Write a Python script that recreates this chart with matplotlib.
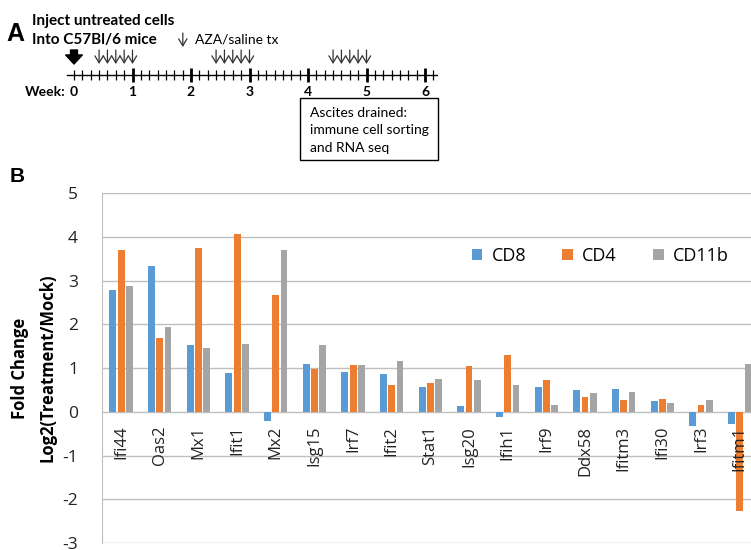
"""
Two-panel figure: A) treatment timeline, B) log2 fold change of ISG expression
in sorted immune cells (CD8, CD4, CD11b).
"""

import matplotlib
matplotlib.use("Agg")
import matplotlib.pyplot as plt
import numpy as np
from matplotlib.patches import Rectangle

plt.rcParams["axes.unicode_minus"] = False

# ---- panel B data ----
GENES = ["Ifi44", "Oas2", "Mx1", "Ifit1", "Mx2", "Isg15", "Irf7", "Ifit2", "Stat1",
         "Isg20", "Ifih1", "Irf9", "Ddx58", "Ifitm3", "Ifi30", "Irf3", "Ifitm1"]
CD8 = [2.78, 3.33, 1.53, 0.89, -0.20, 1.10, 0.91, 0.87, 0.58,
       0.14, -0.11, 0.58, 0.50, 0.53, 0.24, -0.33, -0.28]
CD4 = [3.71, 1.70, 3.74, 4.07, 2.68, 0.98, 1.07, 0.62, 0.67,
       1.04, 1.31, 0.72, 0.35, 0.28, 0.30, 0.16, -2.26]
CD11B = [2.88, 1.93, 1.47, 1.56, 3.71, 1.53, 1.07, 1.17, 0.75,
         0.73, 0.62, 0.16, 0.44, 0.46, 0.21, 0.28, 1.10]
SERIES = ["CD8", "CD4", "CD11b"]
Y_TICKS = [-3, -2, -1, 0, 1, 2, 3, 4, 5]

# ---- panel A data ----
WEEKS = [0, 1, 2, 3, 4, 5, 6]
N_DAYS = 43
TX_DAYS = [3, 4, 5, 6, 7, 17, 18, 19, 20, 21, 31, 32, 33, 34, 35]

BLUE, ORANGE, GRAY = "#5B9BD5", "#ED7D31", "#A5A5A5"
GRID = "#BFBFBF"
FONT_B = "Open Sans"
FONT_A = "Lato"

W_PX, H_PX = 751, 550
fig = plt.figure(figsize=(W_PX / 100, H_PX / 100), dpi=100)

# ---------------- panel A: timeline ----------------
TOP_H = 172
W0, PX_WEEK = 74.0, 58.5  # pixel position of week 0, pixels per week
axA = fig.add_axes([0, 1 - TOP_H / H_PX, 1, TOP_H / H_PX])
axA.set_xlim(-W0 / PX_WEEK, (W_PX - W0) / PX_WEEK)
axA.set_ylim(TOP_H, 0)
axA.axis("off")

line_y = 75
axA.plot([-0.12, 6.2], [line_y, line_y], color="black", lw=1.0)
days = np.arange(N_DAYS + 1) / 7
axA.vlines(days, line_y - 5, line_y + 5, color="black", lw=0.9)
axA.vlines(WEEKS[1:], line_y - 7, line_y + 7, color="black", lw=2.0)
for w in WEEKS:
    axA.text(w, 92, str(w), ha="center", va="center", fontsize=10,
             family=FONT_A, fontweight="bold")
axA.text(-0.15, 92, "Week:", ha="right", va="center", fontsize=10,
         family=FONT_A, fontweight="bold")

# injection arrow
axA.annotate("", xy=(0, 64), xytext=(0, 50),
             arrowprops=dict(arrowstyle="simple,head_width=1.2,head_length=0.65,tail_width=0.5",
                             color="black", shrinkA=0, shrinkB=0))
# treatment arrows
for d in TX_DAYS:
    axA.annotate("", xy=(d / 7, 64), xytext=(d / 7, 50),
                 arrowprops=dict(arrowstyle="->,head_width=0.3,head_length=0.5",
                                 color="#333333", lw=0.9, shrinkA=0, shrinkB=0))
axA.annotate("", xy=(1.86, 47), xytext=(1.86, 33),
             arrowprops=dict(arrowstyle="->,head_width=0.3,head_length=0.5",
                             color="#333333", lw=0.9, shrinkA=0, shrinkB=0))
axA.text(2.07, 39, "AZA/saline tx", ha="left", va="center", fontsize=10, family=FONT_A)

axA.text(-1.15, 34, "A", ha="left", va="center", fontsize=18, fontweight="bold",
         family="Liberation Sans")
axA.text(-0.72, 21, "Inject untreated cells", ha="left", va="center", fontsize=11,
         family=FONT_A, fontweight="bold")
axA.text(-0.72, 40, "Into C57Bl/6 mice", ha="left", va="center", fontsize=11,
         family=FONT_A, fontweight="bold")

bx0, bx1 = (300 - W0) / PX_WEEK, (438 - W0) / PX_WEEK
axA.add_patch(Rectangle((bx0, 98), bx1 - bx0, 62, fill=False, edgecolor="black", lw=1.0))
for i, txt in enumerate(["Ascites drained:", "immune cell sorting", "and RNA seq"]):
    axA.text(bx0 + 0.17, 113 + 17.5 * i, txt, ha="left", va="center", fontsize=10,
             family=FONT_A)

# ---------------- panel B: bar chart ----------------
left_px, right_px = 101.7, 759.0
top_px, bot_px = 193.3, 543.0
axB = fig.add_axes([left_px / W_PX, 1 - bot_px / H_PX,
                    (right_px - left_px) / W_PX, (bot_px - top_px) / H_PX])
x = np.arange(len(GENES)) + 0.5
bw, off = 0.18, 0.215
for vals, col, lab, k in zip([CD8, CD4, CD11B], [BLUE, ORANGE, GRAY], SERIES, [-1, 0, 1]):
    axB.bar(x + k * off, vals, width=bw, color=col, label=lab, zorder=3)

axB.set_xlim(0, len(GENES))
axB.set_ylim(Y_TICKS[0], Y_TICKS[-1])
axB.set_yticks(Y_TICKS)
axB.set_xticks([])
axB.grid(axis="y", color=GRID, lw=1.0, zorder=0)
for s in ["top", "right", "bottom"]:
    axB.spines[s].set_visible(False)
axB.spines["left"].set_color(GRID)
axB.tick_params(axis="y", length=0, pad=17, labelsize=12.5, labelcolor="#222222")
for t in axB.get_yticklabels():
    t.set_family(FONT_B)

for xi, g in zip(x, GENES):
    axB.annotate(g, xy=(xi, 0), xytext=(0, -10), textcoords="offset points",
                 rotation=90, ha="center", va="top", fontsize=12, family=FONT_B,
                 color="#222222")

leg = axB.legend(loc="center", bbox_to_anchor=(600 / W_PX, 1 - 256 / H_PX),
                 bbox_transform=fig.transFigure, ncol=3, frameon=False,
                 handlelength=0.6, handleheight=0.6, handletextpad=0.5,
                 columnspacing=2.0, prop={"family": FONT_B, "size": 13})

fig.text(20 / W_PX, 1 - 368 / H_PX, "Fold Change", rotation=90, ha="center", va="center",
         fontsize=12, fontweight="bold", family=FONT_B)
fig.text(47 / W_PX, 1 - 368 / H_PX, "Log2(Treatment/Mock)", rotation=90, ha="center",
         va="center", fontsize=12, fontweight="bold", family=FONT_B)
fig.text(10 / W_PX, 1 - 177 / H_PX, "B", ha="left", va="center", fontsize=15,
         fontweight="bold", family="Liberation Sans")

fig.savefig("out.png", dpi=100)
